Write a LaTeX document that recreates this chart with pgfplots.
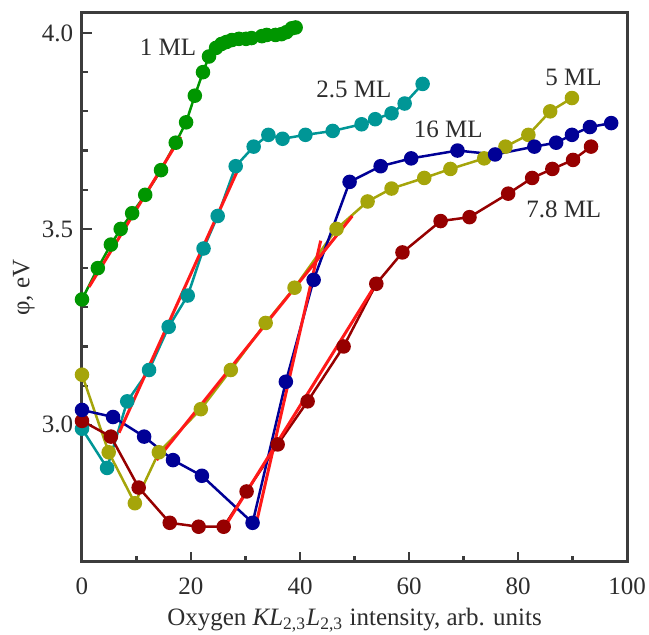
\documentclass[border=0pt]{standalone}
\usepackage{fontspec}
\setmainfont{Liberation Serif}
\usepackage{pgfplots}
\pgfplotsset{compat=1.18}
\definecolor{txt}{RGB}{45,45,45}
\definecolor{axl}{RGB}{60,60,60}
\definecolor{ml1}{RGB}{0,150,0}
\definecolor{ml25}{RGB}{0,150,150}
\definecolor{ml5}{RGB}{165,165,10}
\definecolor{ml16}{RGB}{0,0,150}
\definecolor{ml78}{RGB}{150,0,0}
\definecolor{fit}{RGB}{255,25,25}

\begin{document}
\fontsize{10}{12}\selectfont
\begin{tikzpicture}
\begin{axis}[
    scale only axis,
    width=218pt, height=219.6pt,
    xmin=0, xmax=100, ymin=2.65, ymax=4.051,
    xtick={0,20,40,60,80,100}, minor x tick num=1,
    ytick={3.0,3.5,4.0}, minor y tick num=4,
    xtick pos=bottom, ytick pos=left,
    tick align=inside,
    major tick length=4pt, minor tick length=2.4pt,
    axis line style={axl, line width=1.2pt},
    every tick/.style={axl, line width=0.9pt},
    tick label style={txt, font=\fontsize{10}{12}\selectfont},
    label style={txt, font=\fontsize{10}{12}\selectfont},
    /pgf/number format/assume math mode=true,
    yticklabel style={/pgf/number format/.cd, fixed, fixed zerofill, precision=1},
    xticklabel style={yshift=-2.8pt, inner xsep=0pt},
    xlabel={Oxygen \textit{KL}\textsubscript{2,3}\textit{L}\textsubscript{2,3} intensity, arb. units},
    ylabel={φ, eV},
    xlabel style={yshift=-0.8pt, inner ysep=1pt},
    ylabel style={yshift=-4pt},
    every axis plot/.style={line width=1pt, mark=*, mark size=2.4pt},
    clip=false,
]
% 1 ML
\addplot[ml1, mark options={fill=ml1}] coordinates {
(0,3.32)(2.9,3.40)(5.3,3.46)(7.1,3.50)(9.2,3.54)(11.6,3.587)(14.5,3.65)
(17.2,3.72)(19.1,3.772)(20.7,3.840)(22.2,3.90)(23.3,3.94)(24.6,3.962)
(25.6,3.972)(26.5,3.977)(27.5,3.982)(28.8,3.985)(30.1,3.985)(31.1,3.987)
(33.0,3.992)(33.9,3.995)(35.5,3.995)(36.6,3.997)(37.5,4.002)(38.5,4.012)(39.2,4.014)};
% 2.5 ML
\addplot[ml25, mark options={fill=ml25}] coordinates {
(0,2.99)(4.6,2.89)(8.3,3.06)(12.3,3.14)(15.9,3.25)(19.4,3.33)(22.3,3.45)
(24.9,3.533)(28.2,3.66)(31.5,3.71)(34.2,3.74)(36.8,3.73)(41.0,3.74)
(46.0,3.75)(51.3,3.767)(53.8,3.78)(56.8,3.795)(59.2,3.82)(62.5,3.87)};
% 5 ML
\addplot[ml5, mark options={fill=ml5}] coordinates {
(0,3.128)(4.9,2.93)(9.7,2.80)(14.1,2.93)(21.8,3.04)(27.3,3.14)(33.7,3.26)
(39.0,3.35)(46.7,3.50)(52.4,3.57)(56.8,3.603)(62.8,3.63)(67.6,3.653)
(73.8,3.68)(77.7,3.71)(81.9,3.74)(85.9,3.80)(89.9,3.834)};
% 7.8 ML
\addplot[ml78, mark options={fill=ml78}] coordinates {
(0,3.01)(5.3,2.97)(10.4,2.84)(16.1,2.75)(21.4,2.74)(26.0,2.74)(30.2,2.83)
(35.9,2.95)(41.4,3.06)(48.0,3.20)(54.0,3.36)(58.8,3.44)(65.8,3.52)
(71.1,3.53)(78.2,3.59)(82.6,3.63)(86.3,3.653)(90.1,3.676)(93.4,3.71)};
% 16 ML
\addplot[ml16, mark options={fill=ml16}] coordinates {
(0,3.038)(5.7,3.02)(11.4,2.97)(16.7,2.91)(22.0,2.87)(31.3,2.75)(37.4,3.11)
(42.5,3.37)(49.1,3.62)(54.8,3.66)(60.4,3.68)(68.9,3.70)(75.8,3.69)
(83.0,3.71)(87.0,3.72)(89.9,3.74)(93.2,3.76)(97.1,3.77)};
% linear fits
\addplot[fit, line width=1.2pt, no marks] coordinates {(1.3,3.352)(18.1,3.735)};
\addplot[fit, line width=1.2pt, no marks] coordinates {(6.8,2.98)(28.9,3.66)};
\addplot[fit, line width=1.2pt, no marks] coordinates {(13.7,2.91)(49.6,3.533)};
\addplot[fit, line width=1.2pt, no marks] coordinates {(32.0,2.75)(43.8,3.47)};
\addplot[fit, line width=1.2pt, no marks] coordinates {(26.2,2.74)(54.4,3.37)};
% labels
\node[txt, font=\fontsize{10}{12}\selectfont] at (axis cs:15.8,3.964) {1 ML};
\node[txt, font=\fontsize{10}{12}\selectfont] at (axis cs:49.9,3.855) {2.5 ML};
\node[txt, font=\fontsize{10}{12}\selectfont] at (axis cs:90.2,3.886) {5 ML};
\node[txt, font=\fontsize{10}{12}\selectfont] at (axis cs:67.2,3.755) {16 ML};
\node[txt, font=\fontsize{10}{12}\selectfont] at (axis cs:88.4,3.551) {7.8 ML};
% page frame matching the reference margins
\path (rel axis cs:0,0) ++(-32.8pt,-26.8pt) rectangle ++(259.6pt,251.6pt);
\end{axis}
\end{tikzpicture}
\end{document}
